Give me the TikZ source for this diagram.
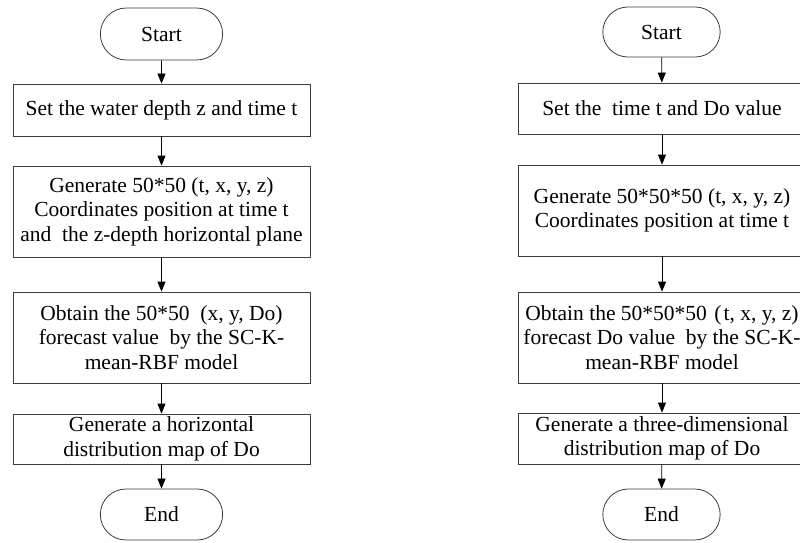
\documentclass[tikz,border=0pt]{standalone}
\usepackage{fontspec}
\setmainfont{Liberation Serif}
\usepackage{tikz}
\usetikzlibrary{arrows.meta,positioning,shapes.misc}
\definecolor{edge}{RGB}{60,60,60}

\tikzset{
  stepbox/.style={draw=edge,line width=0.8pt,rectangle,align=center,inner sep=2pt,
    font=\fontsize{21.5}{24.5}\selectfont},
  termbox/.style={draw=edge,line width=0.8pt,rounded rectangle,
    font=\fontsize{21.5}{24.5}\selectfont},
  flow/.style={draw=black,line width=0.8pt,-{Triangle[length=10pt,width=8pt]}}
}

\begin{document}
\begin{tikzpicture}[x=1pt,y=1pt]
      \useasboundingbox (0,0) rectangle (800,542);
      % left chart: horizontal plane
      \node[termbox,minimum width=129pt,minimum height=52pt] (startL) at (161.5,508) {Start};
      \node[stepbox,minimum width=297pt,minimum height=52pt] (setL) at (161.5,432)
        {Set the water depth z and time t};
      \node[stepbox,minimum width=297pt,minimum height=91pt] (genL) at (161.5,330.5)
        {Generate 50*50 (t, x, y, z)\\Coordinates position at time t\\and~ the z-depth horizontal plane};
      \node[stepbox,minimum width=297pt,minimum height=91pt] (obtL) at (161.5,204.5)
        {Obtain the 50*50~ (x, y, Do)\\forecast value~ by the SC-K-\\mean-RBF model};
      \node[stepbox,minimum width=297pt,minimum height=50pt] (mapL) at (161.5,103)
        {Generate a horizontal\\distribution map of Do};
      \node[termbox,minimum width=129pt,minimum height=51pt] (endL) at (161.5,27.5) {End};
      \foreach \a/\b in {startL/setL,setL/genL,genL/obtL,obtL/mapL,mapL/endL}
        \draw[flow] (\a) -- (\b);
      % right chart: three-dimensional
      \node[termbox,minimum width=124pt,minimum height=50pt] (startR) at (661.5,510) {Start};
      \node[stepbox,minimum width=288pt,minimum height=51pt] (setR) at (662,433.5)
        {Set the~ time t and Do value};
      \node[stepbox,minimum width=288pt,minimum height=91pt] (genR) at (662,331.5)
        {Generate 50*50*50 (t, x, y, z)\\Coordinates position at time t};
      \node[stepbox,minimum width=288pt,minimum height=91pt] (obtR) at (662,204.5)
        {Obtain the 50*50*50\hspace{0.35em}(\kern2pt t, x, y, z)\hspace{2pt}\\forecast Do value~ by the SC-K-\\mean-RBF model};
      \node[stepbox,minimum width=288pt,minimum height=51pt] (mapR) at (662,103.5)
        {Generate a three-dimensional\\distribution map of Do};
      \node[termbox,minimum width=124pt,minimum height=51pt] (endR) at (661.5,27.5) {End};
      \foreach \a/\b in {startR/setR,setR/genR,genR/obtR,obtR/mapR,mapR/endR}
        \draw[flow] (\a) -- (\b);
\end{tikzpicture}
\end{document}
